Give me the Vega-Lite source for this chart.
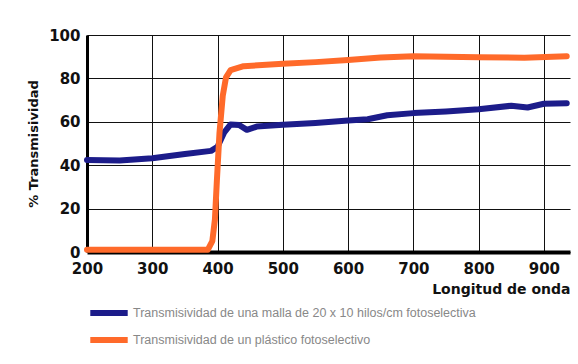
{
  "$schema": "https://vega.github.io/schema/vega-lite/v6.json",
  "autosize": "none",
  "width": 483,
  "height": 217,
  "padding": {"left": 87, "top": 35, "right": 8, "bottom": 112},
  "background": "white",
  "config": {
    "view": {"stroke": null},
    "font": "DejaVu Sans"
  },
  "data": {
    "values": [
      {"x": 200, "y": 42.4, "s": "Transmisividad de una malla de 20 x 10 hilos/cm fotoselectiva"},
      {"x": 250, "y": 42.2, "s": "Transmisividad de una malla de 20 x 10 hilos/cm fotoselectiva"},
      {"x": 300, "y": 43.2, "s": "Transmisividad de una malla de 20 x 10 hilos/cm fotoselectiva"},
      {"x": 350, "y": 45.2, "s": "Transmisividad de una malla de 20 x 10 hilos/cm fotoselectiva"},
      {"x": 390, "y": 46.6, "s": "Transmisividad de una malla de 20 x 10 hilos/cm fotoselectiva"},
      {"x": 400, "y": 48.5, "s": "Transmisividad de una malla de 20 x 10 hilos/cm fotoselectiva"},
      {"x": 410, "y": 55, "s": "Transmisividad de una malla de 20 x 10 hilos/cm fotoselectiva"},
      {"x": 420, "y": 58.8, "s": "Transmisividad de una malla de 20 x 10 hilos/cm fotoselectiva"},
      {"x": 433, "y": 58.5, "s": "Transmisividad de una malla de 20 x 10 hilos/cm fotoselectiva"},
      {"x": 445, "y": 56.3, "s": "Transmisividad de una malla de 20 x 10 hilos/cm fotoselectiva"},
      {"x": 460, "y": 57.8, "s": "Transmisividad de una malla de 20 x 10 hilos/cm fotoselectiva"},
      {"x": 500, "y": 58.6, "s": "Transmisividad de una malla de 20 x 10 hilos/cm fotoselectiva"},
      {"x": 550, "y": 59.5, "s": "Transmisividad de una malla de 20 x 10 hilos/cm fotoselectiva"},
      {"x": 600, "y": 60.6, "s": "Transmisividad de una malla de 20 x 10 hilos/cm fotoselectiva"},
      {"x": 630, "y": 61.2, "s": "Transmisividad de una malla de 20 x 10 hilos/cm fotoselectiva"},
      {"x": 660, "y": 63, "s": "Transmisividad de una malla de 20 x 10 hilos/cm fotoselectiva"},
      {"x": 700, "y": 64, "s": "Transmisividad de una malla de 20 x 10 hilos/cm fotoselectiva"},
      {"x": 750, "y": 64.8, "s": "Transmisividad de una malla de 20 x 10 hilos/cm fotoselectiva"},
      {"x": 800, "y": 65.8, "s": "Transmisividad de una malla de 20 x 10 hilos/cm fotoselectiva"},
      {"x": 850, "y": 67.4, "s": "Transmisividad de una malla de 20 x 10 hilos/cm fotoselectiva"},
      {"x": 875, "y": 66.6, "s": "Transmisividad de una malla de 20 x 10 hilos/cm fotoselectiva"},
      {"x": 900, "y": 68.3, "s": "Transmisividad de una malla de 20 x 10 hilos/cm fotoselectiva"},
      {"x": 935, "y": 68.6, "s": "Transmisividad de una malla de 20 x 10 hilos/cm fotoselectiva"},
      {"x": 200, "y": 1, "s": "Transmisividad de un plástico fotoselectivo"},
      {"x": 300, "y": 1, "s": "Transmisividad de un plástico fotoselectivo"},
      {"x": 385, "y": 1, "s": "Transmisividad de un plástico fotoselectivo"},
      {"x": 392, "y": 5, "s": "Transmisividad de un plástico fotoselectivo"},
      {"x": 396, "y": 15, "s": "Transmisividad de un plástico fotoselectivo"},
      {"x": 399, "y": 33, "s": "Transmisividad de un plástico fotoselectivo"},
      {"x": 403, "y": 55, "s": "Transmisividad de un plástico fotoselectivo"},
      {"x": 408, "y": 72, "s": "Transmisividad de un plástico fotoselectivo"},
      {"x": 413, "y": 80.5, "s": "Transmisividad de un plástico fotoselectivo"},
      {"x": 420, "y": 83.8, "s": "Transmisividad de un plástico fotoselectivo"},
      {"x": 440, "y": 85.6, "s": "Transmisividad de un plástico fotoselectivo"},
      {"x": 500, "y": 86.8, "s": "Transmisividad de un plástico fotoselectivo"},
      {"x": 550, "y": 87.5, "s": "Transmisividad de un plástico fotoselectivo"},
      {"x": 600, "y": 88.5, "s": "Transmisividad de un plástico fotoselectivo"},
      {"x": 650, "y": 89.6, "s": "Transmisividad de un plástico fotoselectivo"},
      {"x": 700, "y": 90.2, "s": "Transmisividad de un plástico fotoselectivo"},
      {"x": 800, "y": 89.8, "s": "Transmisividad de un plástico fotoselectivo"},
      {"x": 870, "y": 89.5, "s": "Transmisividad de un plástico fotoselectivo"},
      {"x": 935, "y": 90.2, "s": "Transmisividad de un plástico fotoselectivo"}
    ]
  },
  "mark": {"type": "line", "strokeWidth": 6, "strokeCap": "round", "strokeJoin": "round"},
  "encoding": {
    "x": {
      "field": "x", "type": "quantitative",
      "scale": {"domain": [200, 940], "nice": false, "zero": false},
      "axis": {
        "values": [200, 300, 400, 500, 600, 700, 800, 900],
        "title": "Longitud de onda",
        "titleAnchor": "end",
        "titleAlign": "right",
        "titleFont": "DejaVu Sans",
        "titleFontSize": 14,
        "titleFontWeight": "bold",
        "titleColor": "#111",
        "titlePadding": 6,
        "labelFont": "DejaVu Sans",
        "labelFontSize": 15,
        "labelFontWeight": "bold",
        "labelColor": "#111",
        "labelPadding": 9,
        "ticks": false,
        "domainColor": "#000",
        "domainWidth": 4,
        "gridColor": "#111",
        "gridWidth": 1,
        "gridOpacity": 1,
        "labelFlush": false
      }
    },
    "y": {
      "field": "y", "type": "quantitative",
      "scale": {"domain": [0, 100], "nice": false},
      "axis": {
        "values": [0, 20, 40, 60, 80, 100],
        "title": "% Transmisividad",
        "titleFont": "DejaVu Sans",
        "titleFontSize": 13,
        "titleFontWeight": "bold",
        "titleColor": "#111",
        "titlePadding": 8,
        "labelFont": "DejaVu Sans",
        "labelFontSize": 15,
        "labelFontWeight": "bold",
        "labelColor": "#111",
        "labelPadding": 7,
        "ticks": false,
        "domainColor": "#000",
        "domainWidth": 3,
        "gridColor": "#111",
        "gridWidth": 1,
        "gridOpacity": 1
      }
    },
    "color": {
      "field": "s", "type": "nominal",
      "scale": {
        "domain": ["Transmisividad de una malla de 20 x 10 hilos/cm fotoselectiva", "Transmisividad de un plástico fotoselectivo"],
        "range": ["#1c1c8a", "#ff6a2a"]
      },
      "legend": {
        "title": null,
        "orient": "none",
        "legendX": 0,
        "legendY": 271,
        "symbolType": "stroke",
        "symbolSize": 1400,
        "symbolStrokeWidth": 6,
        "clipHeight": 14,
        "labelFont": "Liberation Sans",
        "labelFontSize": 12.5,
        "labelColor": "#888",
        "labelLimit": 500,
        "rowPadding": 13,
        "labelOffset": 2
      }
    }
  }
}
